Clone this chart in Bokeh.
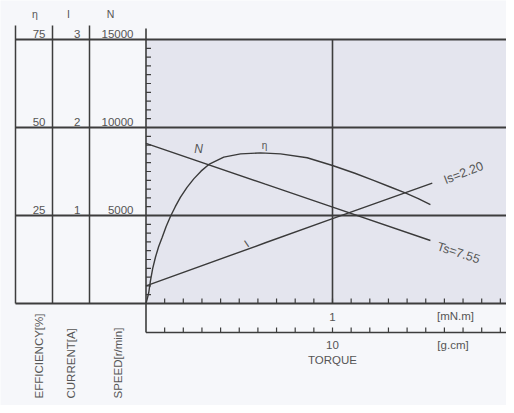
import math
from bokeh.plotting import figure
from bokeh.models import Range1d
from bokeh.core.properties import value
from bokeh.embed import file_html
from bokeh.resources import INLINE

# ---------------- data ----------------
torque_eta = [0.0, 0.008, 0.015, 0.024, 0.036, 0.051, 0.068, 0.087, 0.108, 0.131,
              0.157, 0.185, 0.22, 0.256, 0.295, 0.337, 0.417, 0.507, 0.614, 0.721,
              0.864, 1.0, 1.12, 1.22, 1.31, 1.39, 1.46, 1.525]
efficiency = [0.0, 1.6, 3.2, 6.5, 10.0, 13.2, 16.2, 18.8, 21.9, 24.7,
              27.5, 30.2, 33.0, 35.4, 37.6, 39.5, 41.6, 42.5, 42.8, 42.5,
              41.4, 39.2, 37.0, 35.0, 33.1, 31.4, 29.8, 28.1]
torque_speed = [0.0, 0.64, 0.989, 1.525]
speed = [9100, 6780, 5520, 3580]
torque_current = [0.0, 0.64, 0.989, 1.535]
current = [0.20, 0.69, 0.955, 1.367]

eff_levels = [75, 50, 25]
current_levels = [3, 2, 1]
speed_levels = [15000, 10000, 5000]
torque_mnm_labels = [1]
torque_gcm_labels = [10]
speed_tick_step = 500
torque_tick_step = 0.1

# ---------------- layout / style ----------------
W, H = 506, 405
X0 = 145.5          # canvas px of zero torque
PX_T = 186.5        # px per mN.m
Y0 = 303.0          # canvas px of zero of the vertical scales
PX_FULL = 264.0     # px spanned by a full scale
SPEED_MAX, CURRENT_MAX, EFF_MAX = 15000, 3, 75
GCM_PER_UNIT = 10   # g.cm per drawn torque unit on the lower ruler
RULER_Y = 332       # canvas px of the lower torque ruler line
FONT = "Liberation Sans"
TXT = "#555555"
LINE = "#3d3d3d"
BG = "#f6f7fa"
SHADE = "#e4e5ee"


def vrange(full):
    per = PX_FULL / full
    return Range1d(-(H - Y0) / per, Y0 / per)


x_end = (W - X0) / PX_T
p = figure(width=W, height=H, x_range=Range1d(-X0 / PX_T, x_end),
           y_range=vrange(SPEED_MAX), x_axis_type=None, y_axis_type=None,
           toolbar_location=None, output_backend="svg", title=None, min_border=0)
p.extra_y_ranges = {"cur": vrange(CURRENT_MAX), "eff": vrange(EFF_MAX),
                    "py": Range1d(H, 0)}
p.extra_x_ranges = {"px": Range1d(0, W)}
p.outline_line_color = None
p.background_fill_color = BG
p.border_fill_color = BG

# shaded plotting area
p.quad(left=0, right=x_end + 0.1, bottom=0, top=SPEED_MAX,
       fill_color=SHADE, line_color=None)

# minor ticks: left (speed) and bottom (torque)
sp_ticks = list(range(speed_tick_step, SPEED_MAX, speed_tick_step))
p.segment(x0=[0] * len(sp_ticks), x1=[5 / PX_T] * len(sp_ticks),
          y0=sp_ticks, y1=sp_ticks, line_color=LINE, line_width=1.2)
t_ticks = [round(k * torque_tick_step, 2) for k in range(1, 20)]
p.segment(x0=t_ticks, x1=t_ticks, y0=[Y0] * len(t_ticks), y1=[Y0 - 5] * len(t_ticks),
          y_range_name="py", line_color=LINE, line_width=1.2)
p.segment(x0=t_ticks, x1=t_ticks, y0=[RULER_Y] * len(t_ticks),
          y1=[RULER_Y - 5] * len(t_ticks),
          y_range_name="py", line_color=LINE, line_width=1.2)

# table / grid lines
levels = [0] + speed_levels
p.segment(x0=[15] * 4, x1=[W] * 4, y0=levels, y1=levels, x_range_name="px",
          line_color=LINE, line_width=2)
p.segment(x0=[15, 52, 89], x1=[15, 52, 89], y0=[25] * 3, y1=[Y0] * 3,
          x_range_name="px", y_range_name="py", line_color=LINE, line_width=1.5)
p.segment(x0=[0], x1=[0], y0=[28], y1=[RULER_Y], y_range_name="py",
          line_color=LINE, line_width=1.6)
p.segment(x0=[1], x1=[1], y0=[0], y1=[SPEED_MAX], line_color=LINE, line_width=1.6)
p.segment(x0=[0], x1=[x_end + 0.1], y0=[RULER_Y], y1=[RULER_Y], y_range_name="py",
          line_color=LINE, line_width=1.6)

# curves
p.line(torque_eta, efficiency, y_range_name="eff", line_color="#3a3a3a", line_width=1.4)
p.line(torque_speed, speed, line_color="#3a3a3a", line_width=1.4)
p.line(torque_current, current, y_range_name="cur", line_color="#3a3a3a", line_width=1.4)

common = dict(text_font=value(FONT), text_color=TXT)

# table header
p.text(x=[34.5, 68, 110], y=[13, 13, 13], text=["η", "I", "N"], x_range_name="px",
       y_range_name="py", text_align="center", text_baseline="middle",
       text_font_size="10.5px", **common)
# table values
p.text(x=[45] * 3, y=eff_levels, text=[str(v) for v in eff_levels],
       x_range_name="px", y_range_name="eff", text_align="right",
       text_baseline="bottom", y_offset=-2, text_font_size="11.5px", **common)
p.text(x=[80] * 3, y=current_levels, text=[str(v) for v in current_levels],
       x_range_name="px", y_range_name="cur", text_align="right",
       text_baseline="bottom", y_offset=-2, text_font_size="11.5px", **common)
p.text(x=[133] * 3, y=speed_levels, text=[str(v) for v in speed_levels],
       x_range_name="px", text_align="right",
       text_baseline="bottom", y_offset=-2, text_font_size="11.5px", **common)

# rotated axis names
p.text(x=[38, 70, 117], y=[398, 398, 398],
       text=["EFFICIENCY[%]", "CURRENT[A]", "SPEED[r/min]"],
       x_range_name="px", y_range_name="py", angle=math.pi / 2,
       text_align="left", text_baseline="middle", text_font_size="11.5px", **common)

# torque ruler labels
p.text(x=torque_mnm_labels, y=[316] * len(torque_mnm_labels),
       text=[str(v) for v in torque_mnm_labels], y_range_name="py",
       text_align="center", text_baseline="middle", text_font_size="11.5px", **common)
p.text(x=[v / GCM_PER_UNIT for v in torque_gcm_labels], y=[344] * len(torque_gcm_labels),
       text=[str(v) for v in torque_gcm_labels], y_range_name="py",
       text_align="center", text_baseline="middle", text_font_size="11.5px", **common)
p.text(x=[455, 452.5, 332], y=[315, 344, 359], text=["[mN.m]", "[g.cm]", "TORQUE"],
       x_range_name="px", y_range_name="py", text_align="center",
       text_baseline="middle", text_font_size="11.5px", **common)

# curve labels
p.text(x=[198], y=[148], text=["N"], x_range_name="px", y_range_name="py",
       text_align="center", text_baseline="middle", text_font_size="12px",
       text_font_style="italic", **common)
p.text(x=[264], y=[145], text=["η"], x_range_name="px", y_range_name="py",
       text_align="center", text_baseline="middle", text_font_size="10px", **common)
p.text(x=[246], y=[243], text=["I"], x_range_name="px", y_range_name="py",
       angle=0.6, text_align="center", text_baseline="middle", text_font_size="11px", **common)
p.text(x=[463], y=[172.5], text=["Is=2.20"], x_range_name="px", y_range_name="py",
       angle=math.radians(21), text_align="center", text_baseline="middle",
       text_font_size="12.5px", **common)
p.text(x=[458], y=[252.5], text=["Ts=7.55"], x_range_name="px", y_range_name="py",
       angle=math.radians(-18), text_align="center", text_baseline="middle",
       text_font_size="12.5px", **common)

open("out.html", "w").write(file_html(p, INLINE))
